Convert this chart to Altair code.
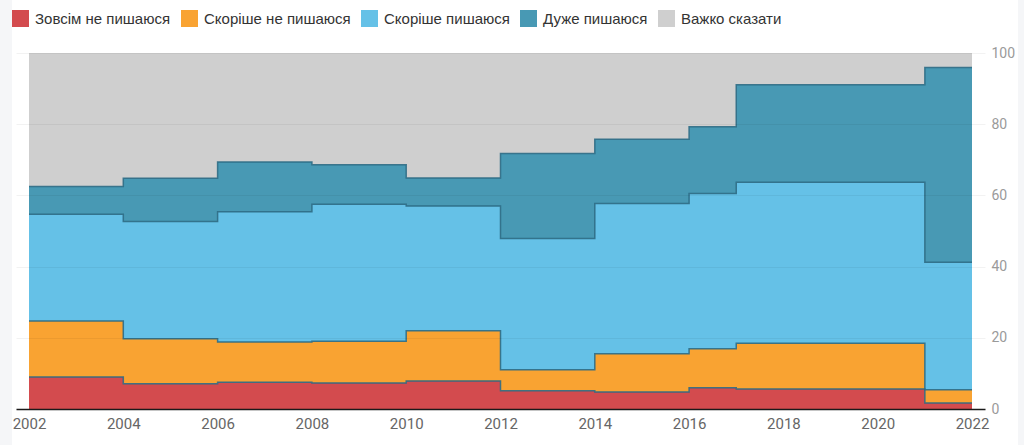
import altair as alt
import pandas as pd

years = [2002, 2004, 2006, 2008, 2010, 2012, 2014, 2016, 2017, 2021, 2022]
series = ["Зовсім не пишаюся", "Скоріше не пишаюся", "Скоріше пишаюся", "Дуже пишаюся", "Важко сказати"]
colors = ["#d34b4e", "#f9a332", "#65c1e7", "#4899b4", "#cfcfcf"]

# values per survey year (last point 2022 repeats 2021 to close the step)
not_at_all = [9.0, 7.1, 7.5, 7.3, 7.9, 5.1, 4.8, 6.0, 5.6, 1.7, 1.7]
rather_not = [15.7, 12.6, 11.3, 11.7, 14.1, 5.9, 10.7, 10.9, 12.9, 3.7, 3.7]
rather_yes = [30.0, 33.0, 36.6, 38.5, 35.0, 36.9, 42.2, 43.6, 45.2, 35.8, 35.8]
very_proud = [7.8, 12.1, 14.0, 11.1, 7.9, 23.9, 18.1, 18.8, 27.4, 54.7, 54.7]
hard_to_say = [37.5, 35.2, 30.6, 31.4, 35.1, 28.2, 24.2, 20.7, 8.9, 4.1, 4.1]

all_vals = [not_at_all, rather_not, rather_yes, very_proud, hard_to_say]
rows = []
for i, (name, vals) in enumerate(zip(series, all_vals)):
    for y, v in zip(years, vals):
        rows.append({"year": y, "series": name, "value": v, "order": i})
df = pd.DataFrame(rows)

x_scale = alt.Scale(domain=[2002, 2022], padding=13, nice=False, zero=False)
y_scale = alt.Scale(domain=[0, 100], nice=False)

base = alt.Chart(df).transform_stack(
    stack="value", groupby=["year"], as_=["v0", "v1"],
    sort=[alt.SortField("order", order="ascending")]
)

color = alt.Color(
    "series:N",
    scale=alt.Scale(domain=series, range=colors),
    sort=series,
    legend=alt.Legend(
        title=None, orient="none", direction="horizontal",
        legendX=-4, legendY=-43, padding=0,
        symbolType="square", symbolSize=289, symbolStrokeWidth=0, symbolOpacity=1,
        labelFont="Liberation Sans", labelFontSize=15, labelColor="#333333",
        labelOffset=6, columnPadding=10,
    ),
)

x_enc = alt.X(
    "year:Q", scale=x_scale, title=None,
    axis=alt.Axis(values=list(range(2002, 2023, 2)), format="d", grid=False,
                  ticks=False, domainColor="#1a1a1a", domainWidth=1.5,
                  labelFont="Roboto", labelFontSize=15, labelColor="#666666",
                  labelPadding=7, labelFlush=False, zindex=2),
)

area = base.mark_area(interpolate="step-after", opacity=1).encode(
    x=x_enc,
    y=alt.Y("v0:Q", scale=y_scale, title=None,
            axis=alt.Axis(orient="right", values=[0, 20, 40, 60, 80, 100], ticks=False,
                          domain=False, gridColor="#000000", gridOpacity=0.05,
                          labelFont="Roboto", labelFontSize=14, labelColor="#9a9a9a",
                          labelPadding=6, zindex=1)),
    y2="v1:Q",
    color=color,
    order=alt.Order("order:Q"),
)

lines = base.transform_filter(alt.datum.order < 4).mark_line(
    interpolate="step-after", color="#2b6a84", strokeWidth=1.5, opacity=0.9
).encode(
    x=alt.X("year:Q", scale=x_scale),
    y=alt.Y("v1:Q", scale=y_scale),
    detail="series:N",
)

card = alt.Chart(alt.Data(values=[{}])).mark_rect(color="white").encode(
    x=alt.value(-4), x2=alt.value(1002), y=alt.value(-53), y2=alt.value(392)
)

chart = alt.layer(card, area, lines).properties(
    width=969, height=356,
    padding={"left": 16, "top": 53, "right": 39, "bottom": 36},
    autosize=alt.AutoSizeParams(type="none"),
    background="#f5f6f8",
).configure_view(stroke=None)

chart.save("out.html", embed_options={"renderer": "svg", "actions": False})
